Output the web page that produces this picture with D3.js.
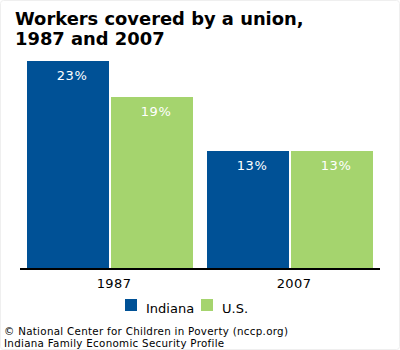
<!DOCTYPE html>
<html>
<head>
<meta charset="utf-8">
<script src="https://cdn.jsdelivr.net/npm/d3@7"></script>
<style>
  html, body { margin: 0; padding: 0; background: #fff; }
  svg { display: block; }
</style>
</head>
<body>
<script>
// Share of workers covered by a union (%)
const years = ["1987", "2007"];
const seriesNames = ["Indiana", "U.S."];
const indianaValues = [23, 13];
const usValues = [19, 13];
const seriesColors = ["#005196", "#a5d46e"];
const titleLines = ["Workers covered by a union,", "1987 and 2007"];
const sourceLines = [
  "\u00a9 National Center for Children in Poverty (nccp.org)",
  "Indiana Family Economic Security Profile"
];

const W = 400, H = 350;
const font = "Verdana, 'DejaVu Sans', sans-serif";

const svg = d3.select("body").append("svg")
  .attr("width", W).attr("height", H);

// faint frame
svg.append("rect")
  .attr("x", 0.5).attr("y", 0.5)
  .attr("width", W - 1).attr("height", H - 1)
  .attr("rx", 3)
  .attr("fill", "#fff").attr("stroke", "#efefef");

// title
svg.append("text")
  .attr("x", 15).attr("y", 25)
  .attr("font-family", font).attr("font-weight", "bold")
  .attr("font-size", 17.9).attr("fill", "#000")
  .selectAll("tspan").data(titleLines).join("tspan")
  .attr("x", 15).attr("dy", (d, i) => i === 0 ? 0 : 20)
  .text(d => d);

// plot area
const plotLeft = 20, plotRight = 380, baseY = 268;
const x0 = d3.scaleBand().domain(years)
  .range([plotLeft, plotRight]).paddingInner(14 / 180).paddingOuter(7 / 180);
const x1 = d3.scaleBand().domain(seriesNames)
  .range([0, x0.bandwidth()]).paddingInner(2 / 84).paddingOuter(0);
const y = d3.scaleLinear().domain([0, 23]).range([baseY, 61]);

const rows = years.map((yr, i) => ({
  year: yr,
  values: [
    { series: seriesNames[0], value: indianaValues[i], color: seriesColors[0] },
    { series: seriesNames[1], value: usValues[i], color: seriesColors[1] }
  ]
}));

const groups = svg.append("g").selectAll("g").data(rows).join("g")
  .attr("transform", d => `translate(${x0(d.year)},0)`);

groups.selectAll("rect").data(d => d.values).join("rect")
  .attr("x", d => x1(d.series))
  .attr("y", d => y(d.value))
  .attr("width", x1.bandwidth())
  .attr("height", d => baseY - y(d.value))
  .attr("fill", d => d.color);

groups.selectAll("text").data(d => d.values).join("text")
  .attr("x", d => x1(d.series) + x1.bandwidth() / 2 + 4)
  .attr("y", d => y(d.value) + 18.5)
  .attr("text-anchor", "middle")
  .attr("font-family", font).attr("font-size", 13)
  .attr("letter-spacing", 0.6)
  .attr("fill", "#fff")
  .text(d => d.value + "%");

// baseline axis
const xAxis = d3.axisBottom(x0).tickSize(0).tickPadding(0);
const axisG = svg.append("g").attr("transform", `translate(0,${baseY})`).call(xAxis);
axisG.select(".domain").remove();
axisG.append("line")
  .attr("x1", plotLeft).attr("x2", plotRight)
  .attr("y1", 1).attr("y2", 1)
  .attr("stroke", "#000").attr("stroke-width", 2);
axisG.selectAll(".tick text")
  .attr("y", 20).attr("dy", 0).attr("dx", 4)
  .attr("font-family", font).attr("font-size", 13)
  .attr("letter-spacing", 0.4)
  .attr("fill", "#000");

// legend
const legendItems = [
  { name: seriesNames[0], color: seriesColors[0], x: 125 },
  { name: seriesNames[1], color: seriesColors[1], x: 201 }
];
const legend = svg.append("g").selectAll("g").data(legendItems).join("g")
  .attr("transform", d => `translate(${d.x},299)`);
legend.append("rect")
  .attr("width", 12).attr("height", 12)
  .attr("fill", d => d.color);
legend.append("text")
  .attr("x", 21).attr("y", 14)
  .attr("font-family", font).attr("font-size", 13)
  .attr("fill", "#000")
  .text(d => d.name);

// source note
svg.append("g").selectAll("text").data(sourceLines).join("text")
  .attr("x", 4).attr("y", (d, i) => 334.5 + i * 12)
  .attr("font-family", font).attr("font-size", 10.3)
  .attr("letter-spacing", 0.3)
  .attr("fill", "#000")
  .text(d => d);
</script>
</body>
</html>
